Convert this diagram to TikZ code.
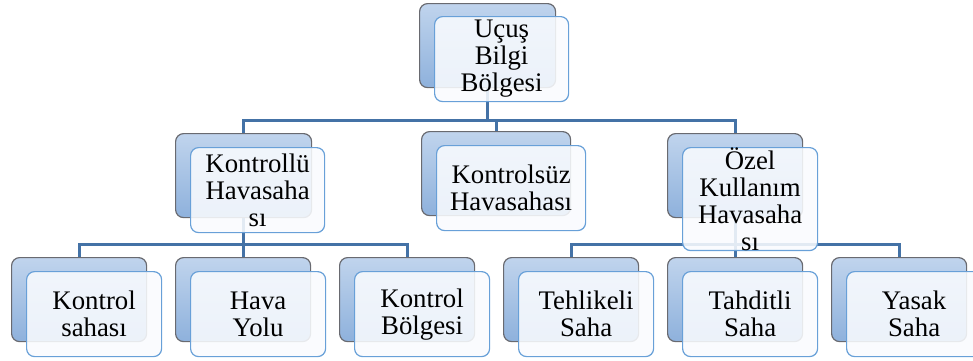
\documentclass[tikz,border=0pt]{standalone}
\usepackage{fontspec}
\setmainfont{Liberation Serif}
\newfontfamily\boxfont{Liberation Serif}
\usetikzlibrary{backgrounds}

\definecolor{linkblue}{RGB}{68,114,166}
\definecolor{backtop}{RGB}{192,212,237}
\definecolor{backbot}{RGB}{142,177,220}
\definecolor{backedge}{RGB}{105,106,112}
\definecolor{frontedge}{RGB}{104,160,216}
\definecolor{frontfill}{RGB}{249,251,254}

\tikzset{
  backbox/.style={draw=backedge, line width=1.2pt, rounded corners=8pt,
    top color=backtop, bottom color=backbot,
    minimum width=#1, minimum height=84pt, inner sep=0pt, anchor=north west},
  backbox/.default=135pt,
  frontbox/.style={draw=frontedge, line width=1.2pt, rounded corners=8pt,
    fill=frontfill, fill opacity=0.88, text opacity=1,
    minimum width=#1, minimum height=85pt, inner sep=0pt, anchor=north west,
    align=center, font=\boxfont\fontsize{26.8}{27}\selectfont},
  frontbox/.default=135pt,
  conn/.style={draw=linkblue, line width=3pt}
}

\begin{document}
\begin{tikzpicture}[x=1pt, y=-1pt]
\useasboundingbox (0,0) rectangle (973,360);
\clip (0,0) rectangle (973,360);

% root
\node[backbox=136pt] (topb) at (419,3) {};
\node[frontbox=134pt] (top) at (434,16) {Uçuş\\Bilgi\\Bölgesi};

% second level
\node[backbox=136pt] (k1b) at (175,133) {};
\node[frontbox=134pt] (k1) at (190,147) {Kontrollü\\Havasaha\\sı};
\node[backbox=149pt] (k2b) at (421,131) {};
\node[frontbox=149pt] (k2) at (436,145) {Kontrolsüz\\Havasahası};
\node[backbox=135pt] (k3b) at (667,133) {};
\node[frontbox=135pt] (k3) at (682,147) {Özel\\Kullanım\\Havasaha\\sı};

% third level
\node[backbox] (a1b) at (11,257) {};
\node[frontbox] (a1) at (26,271) {Kontrol\\sahası};
\node[backbox] (a2b) at (175,257) {};
\node[frontbox] (a2) at (190,271) {Hava\\Yolu};
\node[backbox] (a3b) at (339,257) {};
\node[frontbox] (a3) at (354,271) {Kontrol\\Bölgesi};
\node[backbox] (b1b) at (503,257) {};
\node[frontbox] (b1) at (518,271) {Tehlikeli\\Saha};
\node[backbox] (b2b) at (667,257) {};
\node[frontbox] (b2) at (682,271) {Tahditli\\Saha};
\node[backbox] (b3b) at (831,257) {};
\node[frontbox] (b3) at (846,271) {Yasak\\Saha};

% connectors, behind the boxes
\coordinate (bus1) at (0,120);
\coordinate (bus2) at (0,244);
\begin{scope}[on background layer]
  \draw[conn] (topb.south) -- (topb.south |- bus1);
  \draw[conn] (topb.south |- bus1) -| (k1b.north);
  \draw[conn] (topb.south |- bus1) -| (k2b.north);
  \draw[conn] (topb.south |- bus1) -| (k3b.north);

  \draw[conn] (k1b.south) -- (k1b.south |- bus2);
  \draw[conn] (k1b.south |- bus2) -| (a1b.north);
  \draw[conn] (k1b.south |- bus2) -| (a2b.north);
  \draw[conn] (k1b.south |- bus2) -| (a3b.north);

  \draw[conn] (k3b.south) -- (k3b.south |- bus2);
  \draw[conn] (k3b.south |- bus2) -| (b1b.north);
  \draw[conn] (k3b.south |- bus2) -| (b2b.north);
  \draw[conn] (k3b.south |- bus2) -| (b3b.north);
\end{scope}
\end{tikzpicture}
\end{document}
